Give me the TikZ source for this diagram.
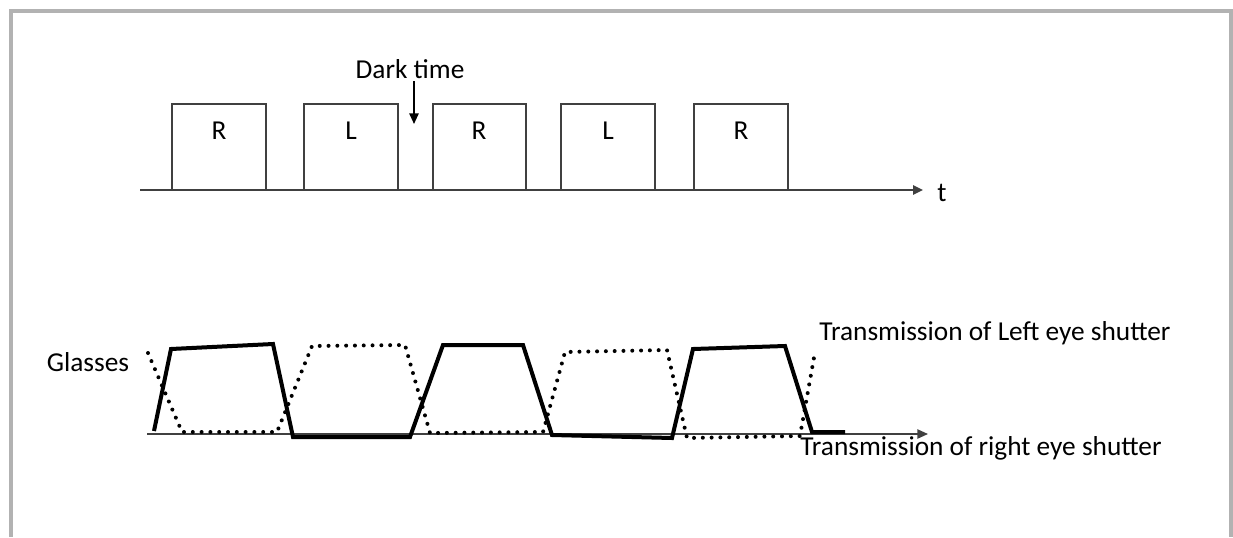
\documentclass[tikz,border=0pt]{standalone}
\usepackage{fontspec}
\setmainfont{Carlito}
\usetikzlibrary{arrows.meta}
\begin{document}
\begin{tikzpicture}[x=0.75pt,y=-0.75pt,
  lbl/.style={font=\fontsize{20.5}{24}\selectfont, inner sep=0pt, text=black},
  pulse/.style={draw=black!75, line width=1.1pt},
  axisline/.style={draw=black!75, line width=1.3pt, -{Triangle[length=7.5pt,width=7pt]}},
  solidcurve/.style={draw=black, line width=3pt, line join=miter},
  dotcurve/.style={draw=black, line width=3pt, line cap=round, dash pattern=on 0pt off 6.6pt}]
\useasboundingbox (0,0) rectangle (1233,537);
\draw[black!30, line width=3pt] (11,537) -- (11,11) -- (1231,11) -- (1231,537);
% top timeline
\coordinate (ta) at (140,190);
\coordinate (tb) at (923,190);
\draw[axisline] (ta) -- (tb);
\foreach \l/\r in {172/266,304/398,433/526,561/655,694/788}{
  \draw[pulse] (\l,190) -- (\l,104) -- (\r,104) -- (\r,190);
}
\node[lbl] (p1) at (219,131) {R};
\node[lbl] (p2) at (351,131) {L};
\node[lbl] (p3) at (479,131) {R};
\node[lbl] (p4) at (608,131) {L};
\node[lbl] (p5) at (741,131) {R};
\node[lbl] (t) at (942,193) {t};
\node[lbl] (dark) at (410,69) {Dark time};
\coordinate (darktop) at (414,81);
\coordinate (darktip) at (414,124);
\draw[black, line width=1.3pt, -{Triangle[length=8pt,width=7pt]}] (darktop) -- (darktip);
% bottom
\coordinate (ba) at (147,434);
\coordinate (bb) at (928,434);
\draw[draw=black!75, line width=1pt, -{Triangle[length=8pt,width=7pt]}] (ba) -- (bb);
\draw[solidcurve] (154,431) -- (171,349) -- (273,344) -- (293,437) -- (410,437) -- (443,345) -- (523,345) -- (552,435) -- (672,438) -- (693,349) -- (785,346) -- (812,432) -- (845,432);
\draw[dotcurve] (148,353) -- (182,432) -- (277,432) -- (312,346) -- (405,345) -- (430,433) -- (543,432) -- (565,352) -- (667,350) -- (687,438) -- (800,436) -- (815,352);
\node[lbl] (glasses) at (88,362) {Glasses};
\node[lbl] (left) at (995,333) {Transmission of Left eye shutter};
\node[lbl] (right) at (981,448) {Transmission of right eye shutter};
\end{tikzpicture}
\end{document}
